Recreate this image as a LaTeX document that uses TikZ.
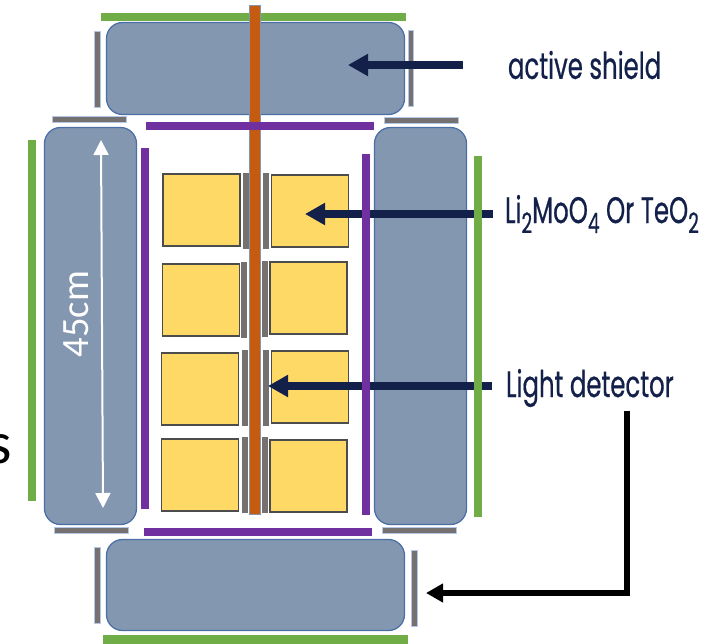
\documentclass[tikz,border=0pt]{standalone}
\usepackage{fontspec}
\usepackage{tikz}
\usetikzlibrary{arrows.meta,positioning,calc}
\setmainfont{Carlito}
\newfontfamily\labelfont[FakeStretch=0.66,FakeBold=0.5]{Poppins}
\newcommand{\lowsub}[1]{\raisebox{-5.7pt}{\fontsize{16}{18}\selectfont #1}}
\definecolor{Shield}{HTML}{8497B0}
\definecolor{ShieldEdge}{HTML}{4A6EA6}
\definecolor{Leaf}{HTML}{70AD47}
\definecolor{Violet}{HTML}{7030A0}
\definecolor{Rust}{HTML}{C55A11}
\definecolor{Crystal}{HTML}{FFD966}
\definecolor{Slate}{HTML}{767171}
\definecolor{SlateEdge}{HTML}{B4C7E7}
\definecolor{Navy}{HTML}{12204A}
\tikzset{
  plain/.style={inner sep=0pt,outer sep=0pt},
  shieldbox/.style={plain,draw=ShieldEdge,line width=.025cm,fill=Shield,rounded corners=.32cm},
  greenbar/.style={plain,fill=Leaf},
  purplebar/.style={plain,fill=Violet},
  graybar/.style={plain,draw=SlateEdge,line width=.015cm,fill=Slate},
  wafer/.style={plain,fill=Slate,minimum width=.12cm,minimum height=1.52cm},
  crystal/.style={plain,draw=black!70,line width=.025cm,fill=Crystal,minimum width=1.54cm,minimum height=1.44cm},
  callout/.style={plain,anchor=west,text=Navy,font=\labelfont\fontsize{21}{25}\selectfont},
  arrow/.style={-{Triangle[length=.4cm,width=.42cm]},line width=.155cm,draw=Navy},
  blackArrow/.style={-{Triangle[length=.34cm,width=.36cm]},line width=.12cm,draw=black},
  whiteArrow/.style={{Triangle[length=.3cm,width=.3cm]}-{Triangle[length=.3cm,width=.3cm]},line width=.04cm,draw=white}
}
\begin{document}
\begin{tikzpicture}[x=1cm,y=1cm]
  \useasboundingbox (0,0) rectangle (14.18,12.86);
  % shields
  \node[shieldbox,minimum width=5.96cm,minimum height=1.84cm] (topShield) at (5.11,11.49) {};
  \node[shieldbox,minimum width=5.96cm,minimum height=1.82cm] (bottomShield) at (5.11,1.16) {};
  \node[shieldbox,minimum width=1.84cm,minimum height=7.94cm] (leftShield) at (1.81,6.34) {};
  \node[shieldbox,minimum width=1.84cm,minimum height=7.94cm] (rightShield) at (8.41,6.34) {};
  \node[greenbar,minimum width=6.10cm,minimum height=.17cm] (topGreen) at (5.07,12.52) {};
  \node[greenbar,minimum width=6.10cm,minimum height=.17cm] (bottomGreen) at (5.11,.07) {};
  % gray strips
  \node[graybar,minimum width=.11cm,minimum height=1.52cm] (topGrayL) at (1.95,11.48) {};
  \node[graybar,minimum width=.11cm,minimum height=1.52cm] (topGrayR) at (8.22,11.50) {};
  \node[graybar,minimum width=.11cm,minimum height=1.52cm] (bottomGrayL) at (1.95,1.16) {};
  \node[graybar,minimum width=.11cm,minimum height=1.52cm] (bottomGrayR) at (8.29,1.10) {};
  \node[graybar,minimum width=1.48cm,minimum height=.11cm] (leftGrayT) at (1.78,10.47) {};
  \node[graybar,minimum width=1.48cm,minimum height=.11cm] (rightGrayT) at (8.43,10.45) {};
  \node[graybar,minimum width=1.48cm,minimum height=.11cm] (leftGrayB) at (1.83,2.25) {};
  \node[graybar,minimum width=1.48cm,minimum height=.11cm] (rightGrayB) at (8.39,2.25) {};
  % central rod
  \node[plain,draw=Shield,line width=.02cm,fill=Rust,minimum width=.21cm,minimum height=10.16cm] (rod) at (5.10,7.66) {};
  % crystals and light detectors
  \node[crystal] (crystalAL) at (4.03,8.66) {};
  \node[crystal] (crystalAR) at (6.20,8.64) {};
  \node[crystal] (crystalBL) at (4.02,6.86) {};
  \node[crystal] (crystalBR) at (6.17,6.90) {};
  \node[crystal] (crystalCL) at (4.00,5.08) {};
  \node[crystal] (crystalCR) at (6.20,5.12) {};
  \node[crystal] (crystalDL) at (4.00,3.36) {};
  \node[crystal] (crystalDR) at (6.17,3.34) {};
  \node[wafer] (waferAL) at (4.91,8.64) {};
  \node[wafer] (waferAR) at (5.31,8.64) {};
  \node[wafer] (waferBL) at (4.88,6.86) {};
  \node[wafer] (waferBR) at (5.29,6.89) {};
  \node[wafer] (waferCL) at (4.89,5.10) {};
  \node[wafer] (waferCR) at (5.31,5.10) {};
  \node[wafer] (waferDL) at (4.89,3.36) {};
  \node[wafer] (waferDR) at (5.29,3.36) {};
  % labels and arrows
  \node[callout] (activeLabel) at (10.16,11.56) {active shield};
  \node[callout] (crystalLabel) at (10.10,8.58) {Li\lowsub{2}MoO\lowsub{4} Or TeO\lowsub{2}};
  \node[callout] (lightLabel) at (10.12,5.10) {Light detector};
  \coordinate (activeTip) at (6.96,11.56);
  \coordinate (crystalTip) at (6.10,8.58);
  \coordinate (lightTip) at (5.36,5.14);
  \coordinate (lightStart) at (12.54,4.64);
  \coordinate (lowerTip) at (8.52,1.00);
  \draw[arrow,shorten <=.9cm] (activeLabel.west)--(activeTip);
  \draw[arrow,shorten <=.24cm] (crystalLabel.west)--(crystalTip);
  \draw[arrow,shorten <=.28cm] ([yshift=.04cm]lightLabel.west)--(lightTip);
  \draw[blackArrow] (lightStart)|-(lowerTip);
  % bars on top of the arrows
  \node[purplebar,minimum width=4.56cm,minimum height=.17cm] (topPurple) at (5.20,10.34) {};
  \node[purplebar,minimum width=4.56cm,minimum height=.17cm] (bottomPurple) at (5.16,2.22) {};
  \node[purplebar,minimum width=.17cm,minimum height=7.22cm] (leftPurple) at (2.90,6.29) {};
  \node[purplebar,minimum width=.17cm,minimum height=7.22cm] (rightPurple) at (7.32,6.17) {};
  \node[greenbar,minimum width=.17cm,minimum height=7.22cm] (leftGreen) at (.64,6.45) {};
  \node[greenbar,minimum width=.17cm,minimum height=7.22cm] (rightGreen) at (9.56,6.13) {};
  % length mark
  \coordinate (spanTop) at (2.02,10.06);
  \coordinate (spanBottom) at (2.06,2.70);
  \draw[whiteArrow] (spanTop)--(spanBottom);
  \node[plain,rotate=90,text=white,font=\fontsize{22}{26}\selectfont] (spanLabel) at (1.52,6.58) {45cm};
  \node[plain,font=\fontsize{34}{40}\selectfont] (cutLetter) at (0,3.88) {s};
\end{tikzpicture}
\end{document}
